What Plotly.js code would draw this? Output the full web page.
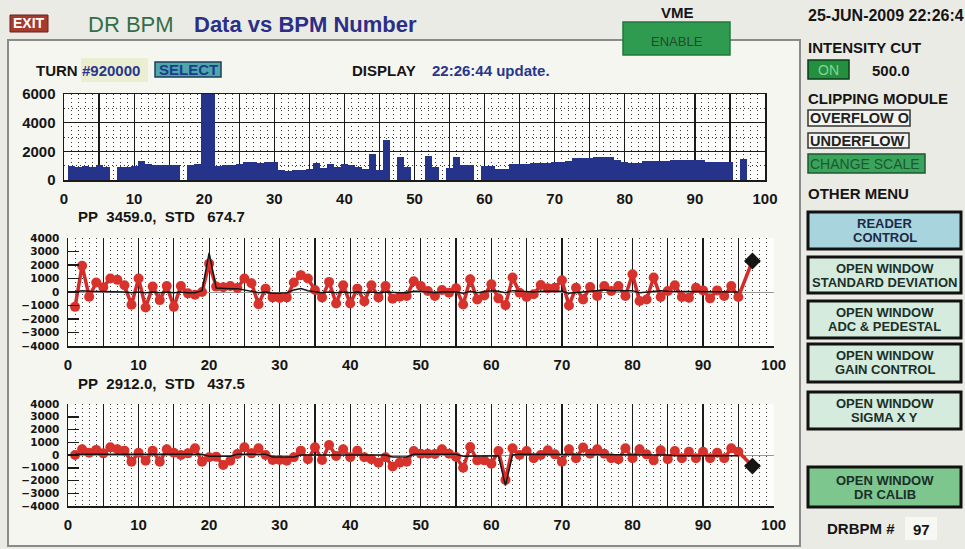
<!DOCTYPE html>
<html><head><meta charset="utf-8">
<script src="https://cdn.plot.ly/plotly-3.0.1.min.js"></script>
<style>html,body{margin:0;padding:0;background:#ebebe6;overflow:hidden}#chart{width:965px;height:549px}</style>
</head><body><div id="chart"></div>
<script>
// ---------------- DATA ----------------
const bpm = [1,2,3,4,5,6,7,8,9,10,11,12,13,14,15,16,17,18,19,20,21,22,23,24,25,26,27,28,29,30,
  31,32,33,34,35,36,37,38,39,40,41,42,43,44,45,46,47,48,49,50,51,52,53,54,55,56,57,58,59,60,
  61,62,63,64,65,66,67,68,69,70,71,72,73,74,75,76,77,78,79,80,81,82,83,84,85,86,87,88,89,90,
  91,92,93,94,95,96,97];

const intensity = [990,940,990,940,1040,940,0,890,940,990,
  1310,1140,1040,1040,1060,1060,0,1040,1090,6000,
  6000,990,1040,1060,1090,1230,1280,1190,1230,1230,
  680,650,700,720,760,1220,840,1120,880,1100,
  1080,900,780,1820,700,2800,0,1600,880,0,
  0,1670,880,0,830,1600,1020,1020,0,1000,
  990,740,740,1110,1150,1150,1180,1200,1220,1260,
  1260,1300,1560,1560,1560,1600,1600,1600,1400,1230,
  1180,1180,1310,1310,1310,1310,1430,1430,1430,1430,
  1400,1230,1230,1230,1230,0,1480];

const posMid = [-1100,1950,-350,700,350,1000,900,500,-950,1000,
  -1150,400,-600,450,-1100,450,-100,-200,0,2100,
  400,350,450,300,1000,650,-900,250,-400,-450,
  -400,700,1250,1000,150,-400,750,-850,500,-850,
  250,-700,500,-400,450,-500,-350,-300,800,450,
  75,-300,150,-50,270,-920,950,-550,-250,570,
  -470,-970,1070,-50,-370,-170,520,270,320,870,
  -1000,320,-550,370,-300,450,75,450,-300,1320,
  -670,-550,1070,-370,75,500,-370,-420,320,120,
  -470,120,-300,450,-370,null,2300];

const refMid = [0,100,50,50,0,50,50,0,-50,0,
  -50,0,-50,0,-50,0,-50,-50,100,2900,
  300,250,250,250,150,50,-50,0,-100,-100,
  -50,150,250,100,0,-50,0,-50,0,-50,
  0,-50,0,-50,0,-50,-50,-50,50,50,
  0,-50,0,0,0,-100,50,-50,0,100,
  50,-50,100,50,0,0,50,50,50,50,
  -100,-50,0,100,150,150,100,100,50,100,
  -50,0,100,100,50,50,0,0,50,50,
  0,0,0,50,0,null,null];

const posBot = [0,450,180,400,130,600,450,340,-520,180,
  -450,340,-520,450,180,0,130,520,-520,-180,
  -130,-790,-450,80,600,130,520,0,-390,-390,
  -450,-180,340,-340,600,-390,790,-80,450,-180,
  340,-180,-340,-600,-180,-900,-600,-520,310,100,
  100,80,450,100,-160,-1000,630,-420,-420,-680,
  310,-1950,520,0,310,-260,0,370,50,-520,
  450,-260,580,100,450,100,-260,-340,520,-260,
  450,50,-420,370,-340,310,-260,260,-260,260,
  -260,180,-260,520,260,null,-870];

const refBot = [50,50,50,50,50,50,50,50,0,0,
  0,0,0,0,0,50,50,50,50,-100,
  -100,-100,-100,50,50,50,50,50,-150,-150,
  -150,-150,0,0,0,0,0,0,0,0,
  0,0,0,0,0,-150,-150,-150,50,50,
  50,50,50,50,50,-100,-100,-100,-100,-100,
  -50,-2400,0,50,50,50,50,50,50,50,
  0,0,0,0,0,0,0,0,0,0,
  0,0,0,0,0,-50,-50,-50,-50,-50,
  -50,-50,-50,-50,-50,null,null];

const selectedBpm = 97;
const xTickStep = 5;          // solid grid every 5 BPM, labels every 10
const statsMid = {pp: '3459.0', std: '674.7'};
const statsBot = {pp: '2912.0', std: '437.5'};
const turnNo = '#920000';
const updTime = '22:26:44';
const dateStr = '25-JUN-2009 22:26:4';
const intensityCut = '500.0';
const drbpmNo = '97';

// ---------------- LAYOUT HELPERS ----------------
const W = 965, H = 549;
const px = x => x / W, py = y => 1 - y / H;
const SANS = 'Liberation Sans, Arial, Helvetica, sans-serif';
const NB = '\u00A0';

function R(x0, y0, x1, y1, fill, lc, lw, layer) {
  return {type:'rect', xref:'paper', yref:'paper', x0:px(x0), x1:px(x1), y0:py(y1), y1:py(y0),
    fillcolor:fill, line:{color:lc || fill, width: lw === undefined ? 0 : lw}, layer: layer || 'below'};
}
function T(text, x, y, o) {
  o = o || {};
  return {xref:'paper', yref:'paper', x:px(x), y:py(y), text:text, showarrow:false,
    xanchor:o.anchor || 'left', yanchor:'middle', borderpad:0,
    font:{family:SANS, size:o.size || 15, color:o.color || '#151515', weight:o.weight || 'bold'}};
}

const tickFont = {family:SANS, size:15, weight:'bold', color:'#151515'};
const dotGrid = {tickmode:'linear', tick0:0, dtick:1, showgrid:true, gridcolor:'#3a3a3a', griddash:'1px,3px', gridwidth:1};

function xAxis(domain, anchor, mirror) {
  return {domain:domain, anchor:anchor, range:[0,100], tickmode:'linear', tick0:0, dtick:xTickStep,
    ticklabelstep:2, showgrid:true, gridcolor:'#1a1a1a', gridwidth:1.2, showline:true, mirror:mirror,
    linecolor:'#1a1a1a', linewidth:1.5, ticks:'', zeroline:false, tickfont:tickFont,
    ticklabelstandoff:4, minor:dotGrid, fixedrange:true};
}
function yPosAxis(domain, anchor) {
  return {domain:domain, anchor:anchor, range:[-4000,4000], tickmode:'linear', tick0:0, dtick:1000,
    ticks:'inside', ticklen:11, tickwidth:1.5, tickcolor:'#1a1a1a', showgrid:false,
    zeroline:true, zerolinecolor:'#9a9a9a', zerolinewidth:1, showline:true, linecolor:'#1a1a1a',
    linewidth:1.5, tickfont:{family:'DejaVu Sans, sans-serif', size:10.5, weight:'bold', color:'#151515'},
    ticklabelstandoff:5, fixedrange:true};
}

const layout = {
  width:W, height:H, margin:{l:0, r:0, t:0, b:0}, showlegend:false,
  paper_bgcolor:'#ebebe6', plot_bgcolor:'rgba(0,0,0,0)', bargap:0,
  xaxis: xAxis([px(64), px(765)], 'y', true),
  yaxis: {domain:[py(180), py(94)], anchor:'x', range:[0,6000], tickmode:'linear', tick0:0, dtick:2000,
    showgrid:true, gridcolor:'#1a1a1a', gridwidth:1.2, showline:true, mirror:true, linecolor:'#1a1a1a',
    linewidth:1.5, ticks:'', zeroline:false, tickfont:tickFont, ticklabelstandoff:4,
    minor:{tickmode:'linear', tick0:0, dtick:1000, showgrid:true, gridcolor:'#3a3a3a', griddash:'1px,3px', gridwidth:1},
    fixedrange:true},
  xaxis2: xAxis([px(68), px(773.6)], 'y2', false),
  yaxis2: yPosAxis([py(346), py(238)], 'x2'),
  xaxis3: xAxis([px(68), px(773.6)], 'y3', false),
  yaxis3: yPosAxis([py(506), py(404)], 'x3'),
  shapes: [
    R(8, 40, 800, 546, '#f6f6f1', '#8a8a8a', 2),
    R(64, 94, 765, 180, '#fdfdfb'),
    R(68, 238, 773.6, 346, '#fdfdfb'),
    R(68, 404, 773.6, 506, '#fdfdfb'),
    R(81, 58, 148, 82, '#eceed2'),
    R(155, 62, 221, 77, '#4ea7ad', '#1e3e56', 1.5),
    R(10, 15, 48, 32, '#a53a2d', '#6a2018', 1),
    R(623, 22, 730, 55, '#2f9b50', '#237a3c', 1.5),
    R(808, 60, 849, 79, '#23903f', '#0e3a1a', 1.5),
    R(808, 110, 910, 126, '#f4f4f0', '#333333', 1.5),
    R(808, 133, 909, 148, '#f4f4f0', '#333333', 1.5),
    R(808, 154, 925, 173, '#3aa35c', '#1e5a30', 1.5),
    R(808, 212, 961, 249, '#a8d5dd', '#111111', 3),
    R(808, 257, 961, 293, '#d5ebde', '#111111', 3),
    R(808, 301, 961, 338, '#d5ebde', '#111111', 3),
    R(808, 344, 961, 382, '#d5ebde', '#111111', 3),
    R(808, 392, 961, 429, '#d5ebde', '#111111', 3),
    R(808, 467, 961, 507, '#7dc68e', '#111111', 3),
    R(905, 517, 937, 540, '#f7f7f3')
  ],
  annotations: [
    T('EXIT', 29, 23.5, {anchor:'center', size:14, color:'#ffffff'}),
    T('DR BPM', 87, 24, {size:22, weight:'normal', color:'#336e46'}),
    T('Data vs BPM Number', 193, 24, {size:22, color:'#2b2f86'}),
    T('VME', 677, 12, {anchor:'center'}),
    T('ENABLE', 677, 42, {anchor:'center', size:13, weight:'normal', color:'#1f4a2e'}),
    T(dateStr, 807, 15, {size:16}),
    T('INTENSITY CUT', 807, 48),
    T('ON', 828.5, 70, {anchor:'center', size:14, weight:'normal', color:'#86d496'}),
    T(intensityCut, 871, 70),
    T('CLIPPING MODULE', 807, 98),
    T('OVERFLOW O', 809, 118, {size:14.5, color:'#222'}),
    T('UNDERFLOW', 809, 140.5, {size:14.5, color:'#222'}),
    T('CHANGE SCALE', 809, 163.5, {size:14, weight:'normal', color:'#1a5a2c'}),
    T('OTHER MENU', 807, 193),
    T('READER', 884.5, 223.5, {anchor:'center', size:13, color:'#1c2a48'}),
    T('CONTROL', 884.5, 237.5, {anchor:'center', size:13, color:'#1c2a48'}),
    T('OPEN WINDOW', 884.5, 268, {anchor:'center', size:13, color:'#1a3028'}),
    T('STANDARD DEVIATION', 884.5, 282, {anchor:'center', size:13, color:'#1a3028'}),
    T('OPEN WINDOW', 884.5, 312, {anchor:'center', size:13, color:'#1a3028'}),
    T('ADC &amp; PEDESTAL', 884.5, 326, {anchor:'center', size:13, color:'#1a3028'}),
    T('OPEN WINDOW', 884.5, 355.5, {anchor:'center', size:13, color:'#1a3028'}),
    T('GAIN CONTROL', 884.5, 369.5, {anchor:'center', size:13, color:'#1a3028'}),
    T('OPEN WINDOW', 884.5, 403.5, {anchor:'center', size:13, color:'#1a3028'}),
    T('SIGMA X Y', 884.5, 417.5, {anchor:'center', size:13, color:'#1a3028'}),
    T('OPEN WINDOW', 884.5, 480, {anchor:'center', size:13, color:'#1a3028'}),
    T('DR CALIB', 884.5, 494, {anchor:'center', size:13, color:'#1a3028'}),
    T('DRBPM #', 826, 528),
    T(drbpmNo, 912, 529),
    T('TURN', 35, 70),
    T(turnNo, 81, 70, {color:'#27378c'}),
    T('SELECT', 188, 69.5, {anchor:'center', color:'#1d3c8a'}),
    T('DISPLAY', 351, 70),
    T(updTime + ' update.', 431, 70, {color:'#27378c'}),
    T('PP' + NB + NB + statsMid.pp + ',' + NB + NB + 'STD' + NB + NB + NB + statsMid.std, 77, 216.5),
    T('PP' + NB + NB + statsBot.pp + ',' + NB + NB + 'STD' + NB + NB + NB + statsBot.std, 77, 383)
  ]
};

// ---------------- TRACES ----------------
const redLine = {color:'#d42b2b', width:3.5};
const redMarker = {color:'#d8322c', size:10};
const selIdx = bpm.indexOf(selectedBpm);

const traces = [
  {type:'bar', x:bpm, y:intensity, width:1, xaxis:'x', yaxis:'y',
    marker:{color:'#25338a', line:{width:0}}, hoverinfo:'skip'},

  {type:'scatter', mode:'lines+markers', x:bpm, y:posMid, xaxis:'x2', yaxis:'y2',
    connectgaps:true, line:redLine, marker:redMarker, hoverinfo:'skip'},
  {type:'scatter', mode:'lines', x:bpm, y:refMid, xaxis:'x2', yaxis:'y2',
    line:{color:'#151515', width:1.5}, hoverinfo:'skip'},
  {type:'scatter', mode:'markers', x:[selectedBpm], y:[posMid[selIdx]], xaxis:'x2', yaxis:'y2',
    marker:{symbol:'diamond', color:'#151515', size:13}, hoverinfo:'skip'},

  {type:'scatter', mode:'lines+markers', x:bpm, y:posBot, xaxis:'x3', yaxis:'y3',
    connectgaps:true, line:redLine, marker:redMarker, hoverinfo:'skip'},
  {type:'scatter', mode:'lines', x:bpm, y:refBot, xaxis:'x3', yaxis:'y3',
    line:{color:'#151515', width:1.5}, hoverinfo:'skip'},
  {type:'scatter', mode:'markers', x:[selectedBpm], y:[posBot[selIdx]], xaxis:'x3', yaxis:'y3',
    marker:{symbol:'diamond', color:'#151515', size:13}, hoverinfo:'skip'}
];

Plotly.newPlot('chart', traces, layout, {displayModeBar:false, staticPlot:true});
</script>
</body></html>
